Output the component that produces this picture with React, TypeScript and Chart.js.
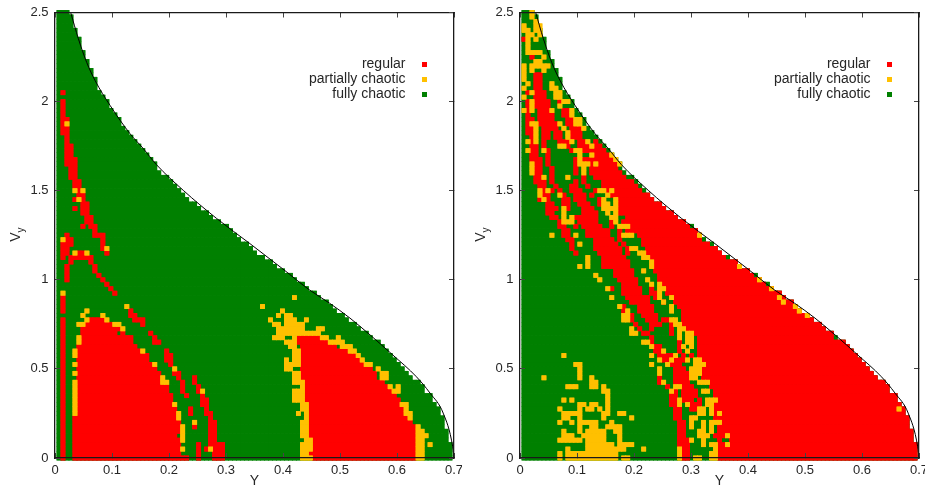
import React, { useEffect, useRef } from "react";
import { Chart, registerables } from "chart.js";

Chart.register(...registerables);

const seriesNames = ["regular", "partially chaotic", "fully chaotic"];
const yStep = 0.007;
const vyStep = 0.025;
const xTicks = [0, 0.1, 0.2, 0.3, 0.4, 0.5, 0.6, 0.7];
const yTicks = [0, 0.5, 1, 1.5, 2, 2.5];

// zero-velocity curve
const curveY = [0.0275, 0.041, 0.0556, 0.0702, 0.0965, 0.1316, 0.155, 0.178, 0.225, 0.2836, 0.342, 0.4, 0.447, 0.482, 0.5175, 0.553, 0.593, 0.634, 0.658, 0.681, 0.6977, 0.7];
const curveVy = [2.5, 2.353, 2.22, 2.119, 1.979, 1.82, 1.736, 1.646, 1.502, 1.344, 1.203, 1.06, 0.942, 0.868, 0.785, 0.69, 0.577, 0.456, 0.364, 0.252, 0.063, 0];

// last occupied Y cell of each Vy row (row 0 to row 100)
const rowExtent = [
  99, 99, 99, 99, 98, 98, 98, 97, 97, 97, 96, 96, 95, 94, 94, 92, 92, 91, 89, 88,
  87, 86, 85, 84, 83, 82, 81, 79, 78, 76, 75, 73, 72, 70, 69, 68, 66, 65, 63, 62,
  60, 59, 57, 55, 54, 52, 50, 49, 48, 46, 45, 44, 43, 41, 39, 38, 36, 35, 33, 32,
  31, 30, 29, 28, 26, 25, 25, 24, 23, 22, 21, 20, 19, 18, 17, 16, 16, 15, 14, 13,
  13, 12, 11, 10, 10, 10, 9, 9, 8, 8, 7, 7, 6, 6, 6, 5, 5, 4, 4, 4, 3,
];

const leftRegular: Record<number, string> = {
  82: "2", 80: "2", 79: "2", 78: "2", 77: "2", 76: "2-3", 75: "2", 74: "2-3", 73: "2-3", 72: "3", 71: "3",
  70: "3-4", 69: "3-4", 68: "3-4", 67: "3-5", 66: "3-5", 65: "4-5", 64: "4-5", 63: "4-5", 62: "5-6", 61: "5-6",
  60: "6", 59: "6-7", 58: "5 7", 57: "7-8", 56: "5 7-8", 55: "7-8", 54: "8-9", 53: "8-9", 52: "7 9-10", 51: "10",
  50: "3 10-12", 49: "3-4 12", 48: "2-4 12", 47: "2-3 12", 46: "2-3 6-7 13", 45: "2 4-9", 44: "4 9", 43: "3 10",
  42: "3 10", 41: "3 11", 40: "3 12", 39: "13", 38: "14", 37: "15", 36: "2", 35: "2", 34: "2", 33: "2 19",
  32: "19-20", 31: "2 9-12 20-22", 30: "2 8-14 22", 29: "2 7-16", 28: "2 7-15 17 24", 27: "2 7-19 25 61-66",
  26: "2 7-19 25-26 61-68", 25: "2 6-20 62-70", 24: "2 6-21 28 62-73", 23: "2 6-23 28-29 62-75",
  22: "2 6-23 28-29 62-76", 21: "2 6-24 29 62-77", 20: "2 6-25 62-79", 19: "2 6-26 30-31 62-80",
  18: "2 6-26 31 35 62-80", 17: "2 6-26 32 35 63-82", 16: "2 6-28 32 36 63-83", 15: "2 6-28 32 36 63-84",
  14: "2 6-29 33 37 63-85", 13: "2 6-29 37-38 63-86", 12: "2 6-29 37-38 64-86", 11: "2 6-30 34 38 64-87",
  10: "2 6-30 34 38-39 64-87", 9: "2 5-30 39 64-88", 8: "2 5-31 35 39-40 64-89", 7: "2 5-31 35 39-40 64-90",
  6: "2 5-31 39-40 64-90", 5: "2 5-30 39-40 64-90", 4: "2 5-31 39-40 65-90", 3: "2 5-31 36 39-42 65-90",
  2: "2 5-31 36 38 40-42 65-90", 1: "2 5-31 36 40-42 64-90", 0: "2 5-33 36 40-42 65-90",
};

const leftPartial: Record<number, string> = {
  75: "3", 60: "5 7", 58: "6", 49: "2", 47: "13", 46: "5 8", 37: "2", 36: "60", 34: "18 52", 33: "8 57",
  32: "7 12 56 58-59", 31: "8 13 54 58-60 63", 30: "6-7 15-16 55-56 58-62", 29: "17 56-62 66-67", 28: "56-66",
  27: "6 55-57 60 67-68 71", 26: "6 58-60 69-72", 25: "59-60 72-74", 24: "5 22 60-61 74-75", 23: "5 60-61 76",
  22: "58 60-61 77", 21: "5 25 58-61 78-79", 20: "30 58-59 81", 19: "5 60-61 82-83", 18: "27 60-61 82-83",
  17: "5 27-28 60-62", 16: "5 62 84 86", 15: "5 37 60-62 85-86", 14: "5 60-62", 13: "5 60-62",
  12: "5 30 62-63 87-88", 11: "5 62-63 88", 10: "5 31 61 63 88-89", 9: "31 63 89", 8: "35 62-63",
  7: "32 62-63 91", 6: "32 62-63 91-92", 5: "32 62-63 91-93", 4: "32 63-64 91-92", 3: "62-64 91-92 94",
  2: "32 39 62-64 91-92", 1: "62-63 91-92", 0: "62-64 91-92",
};

const rightRegular: Record<number, string> = {
  94: "1", 90: "3", 86: "4-5", 85: "4-5", 84: "4-5", 83: "4-5", 82: "2 4-6", 81: "4-6", 80: "2 4-7 10", 79: "2 4-7",
  78: "2 5-7 11-12", 77: "2 5-8 11-12", 76: "2-3 5-8 12-13", 75: "2 5-9 12-13", 74: "2-3 6-9 13-15",
  73: "2-3 6-7 9-10 13-15", 72: "3 6-7 9-10 13-15", 71: "3 6 10-12 15-16 19", 70: "3-4 6 12 15-20", 69: "3-4 7 13 16-21",
  68: "3-4 7 19-22", 67: "3-5 7 14 16-23", 66: "4-5 7 14 18 20-24", 65: "4-5 8 14 18-24", 64: "4-5 8 14 18-25",
  63: "4-5 8 16 19-26", 62: "4-6 8 14 16 21-28", 61: "5-6 9 13-14 17 21-29", 60: "6 8 10 13-15 19 22 24-30",
  59: "6-7 11 14-16 18 23+", 58: "5 7 11-12 14-16 20 25+", 57: "7-8 11-12 15-17 20 25+", 56: "7-9 12 16-18 25+",
  55: "7-8 16-19 25+", 54: "8-9 14-19 27+", 53: "10 15-19 23 26+", 52: "10-11 14 16-20 23 28-42",
  51: "11-12 17-22 25 27+", 50: "11-12 17-22 25 30+", 49: "12-13 19-23 25 31-45", 48: "13 19-24 26 31-47",
  47: "13 19-25 27 32+", 46: "14 20-25 27 32+", 45: "21-26 33-51", 44: "21-27 34+", 43: "21-27 34+", 42: "24-28 34+",
  41: "24-28 35-58", 40: "25-29 35+", 39: "26-29 36-61", 38: "23 26-30 33 37+", 37: "26-30 33-34 37+",
  36: "27-32 34 39+", 35: "28-32 36 39+", 34: "26 30-33 40+", 33: "26 30-33 41+", 32: "28 31-34 41+",
  31: "28 32-34 36-37 41+", 30: "29 33-35 38 41+", 29: "30 33 38 42+", 28: "31-32 38 44+", 27: "33 45-78",
  26: "33 40 45+", 25: "34-35 40 45+", 24: "34-35 40 45+", 23: "35-38 41 43 45+", 22: "36-37 39-41 46+", 21: "38-40 47+",
  20: "39-41 46+", 19: "39-42 46+", 18: "35 39-42 46+", 17: "35 39-42 48+", 16: "37 41-43 48+", 15: "39 41-44 49+",
  14: "38-39 41-44 49+", 13: "38-39 41-43 45 50+", 12: "38-39 43-45 49+", 11: "39-40 43-44 49+", 10: "39-40 49 51+",
  9: "39-40 49+", 8: "40-41 51+", 7: "40-41 50+", 6: "40-41 50+", 5: "40-41 49+", 4: "40-42 50 53+", 3: "40-42 50+",
  2: "41-42 50+", 1: "41-42 50+", 0: "41-42 50+",
};

const rightPartial: Record<number, string> = {
  100: "3", 99: "3", 98: "4", 97: "1 4-5", 96: "1-2 4-5", 95: "2-3 5", 94: "2 4", 93: "2", 92: "2", 91: "2-5", 90: "6",
  89: "4-5", 88: "1 3-7", 87: "1 3 6", 86: "1", 85: "1", 84: "2 8", 83: "1 8-9", 82: "3 9-10", 81: "1 9-10",
  80: "3 11-12", 79: "3 10", 78: "1 3 8 13", 77: "13", 76: "14-15", 75: "3-4 10 14-15", 74: "4 11 16", 73: "4 12",
  72: "4 12", 71: "2 4 13 17", 70: "10-11 18", 69: "2 6 14-15", 68: "15 18 23", 67: "15 24", 66: "3 15-17 19 25", 65: "3 16",
  64: "3 16", 63: "6 12", 60: "5 7 20-21 23", 59: "5 10 22", 58: "6 21 24", 57: "21-22 24", 56: "11 21-24",
  55: "11 22 24", 54: "11 13 23-24", 53: "11-13 24", 52: "25-27", 50: "8 14 26-28 45", 48: "15", 47: "28-29",
  46: "30-31", 45: "17 31-32", 44: "17 33", 43: "15 17 33 55", 42: "31", 41: "19", 40: "20 32 60", 39: "33 35", 38: "22 35-36 63",
  37: "35", 36: "23 35 38 65", 35: "36 66", 34: "25 38 69", 33: "27 38 70", 32: "26-27 72", 31: "26-27 38-39", 30: "39-40",
  29: "28 40-41", 28: "28-29 40 42-43", 27: "40 42-43", 26: "31-32 42-43", 25: "33 41 43", 24: "36 42", 23: "11 33 39",
  22: "35 38 42 44-45", 21: "14-15 33 37 44-46", 20: "15 35 43-45", 19: "15 35 43-45", 18: "6 15 18 43-44", 17: "18-19 36 45-47",
  16: "12-14 18-19 21 39-40", 15: "21-22 38 46-47", 14: "22", 13: "11 13 22 40 47-49", 12: "15-16 18-19 22 40 42 47-48",
  11: "10 15 17-18 20 22 45-46 48 95", 10: "11-15 21-22 25-26 45-46 48 50", 9: "11-12 15 21 28 43-44",
  8: "10 13 15-19 23 43 46 48-50", 7: "15 18-19 22-25 43 46 48", 6: "11 15 17-21 24-25 45-46 48", 5: "11-13 16-21 25 45-47 52",
  4: "10-15 17-21 25 43 46", 3: "17-23 25-28 46 48-49 52", 2: "12 17-26 31 40 49", 1: "10 12-24 40 48-49", 0: "10 12-24 26-27 40 44-45 48-49",
};

function expand(rows: Record<number, string>) {
  const pts: { x: number; y: number }[] = [];
  for (const key of Object.keys(rows)) {
    const j = Number(key);
    for (const tok of rows[j].split(" ")) {
      let a: number, b: number;
      if (tok.endsWith("+")) { a = Number(tok.slice(0, -1)); b = rowExtent[j]; }
      else if (tok.includes("-")) { [a, b] = tok.split("-").map(Number); }
      else { a = b = Number(tok); }
      for (let c = a; c <= b; c++) pts.push({ x: c * yStep, y: j * vyStep });
    }
  }
  return pts;
}

function baseCells() {
  const pts: { x: number; y: number }[] = [];
  rowExtent.forEach((last, j) => {
    for (let c = 1; c <= last; c++) pts.push({ x: c * yStep, y: j * vyStep });
  });
  return pts;
}

const twice = <T,>(a: T[]) => [...a, ...a];

const legendPlugin = {
  id: "panelDecor",
  afterDraw(chart: any) {
    const { ctx, chartArea } = chart;
    const colors = ["#ff0000", "#ffc000", "#008000"];
    ctx.save();
    ctx.font = "14px 'Liberation Sans'";
    ctx.textAlign = "right";
    ctx.textBaseline = "middle";
    seriesNames.forEach((name, i) => {
      const y = 64.5 + i * 15;
      ctx.fillStyle = "#262626";
      ctx.fillText(name, chartArea.right - 48.5, y);
      ctx.fillStyle = colors[i];
      ctx.fillRect(chartArea.right - 32, y - 2.5, 5, 5);
    });
    ctx.fillStyle = "#262626";
    ctx.translate(chartArea.left - 39, 237);
    ctx.rotate(-Math.PI / 2);
    ctx.textAlign = "center";
    ctx.font = "14px 'Liberation Sans'";
    ctx.fillText("V", 0, 0);
    ctx.font = "10px 'Liberation Sans'";
    ctx.fillText("y", 7, 5);
    ctx.restore();
  },
};

function makeAxis(position: string, min: number, max: number, ticks: number[], fit: number, main: boolean, titleText?: string) {
  return {
    type: "linear",
    position,
    min,
    max,
    afterBuildTicks: (s: any) => { s.ticks = ticks.map((value) => ({ value })); },
    afterFit: (s: any) => {
      if (position === "left" || position === "right") s.width = fit;
      else s.height = fit;
      s.paddingLeft = 0;
      s.paddingRight = 0;
      s.paddingTop = 0;
      s.paddingBottom = 0;
    },
    border: { display: true, color: "#1a1a1a", width: 1.3, z: 1 },
    grid: { display: true, drawOnChartArea: false, drawTicks: true, tickLength: -5, color: "#444444", lineWidth: 1, z: 1 },
    ticks: {
      display: main,
      autoSkip: false,
      maxRotation: 0,
      padding: position === "left" ? 11.5 : 9.5,
      color: "#262626",
      font: { family: "'Liberation Sans'", size: 13 },
      callback: (v: number) => String(Number(Number(v).toFixed(1))),
      z: 1,
    },
    title: titleText
      ? { display: true, text: titleText, color: "#262626", font: { family: "'Liberation Sans'", size: 14 }, padding: { top: 0, bottom: -2 } }
      : { display: false },
  };
}

function Panel({ left, width, regular, partial }: { left: number; width: number; regular: Record<number, string>; partial: Record<number, string> }) {
  const ref = useRef<HTMLCanvasElement>(null);
  useEffect(() => {
    const cell = { pointStyle: "rect", pointRadius: 3.4, pointBorderWidth: 0, pointHoverRadius: 3.4, showLine: false, clip: false };
    const chart = new Chart(ref.current!, {
      type: "scatter",
      plugins: [legendPlugin],
      data: {
        datasets: [
          { label: "curve", data: curveY.map((x, i) => ({ x, y: curveVy[i] })), showLine: true, cubicInterpolationMode: "monotone", borderColor: "#000000", borderWidth: 1, pointRadius: 0, order: 0, clip: false },
          { label: seriesNames[1], data: twice(expand(partial)), backgroundColor: "#ffc000", order: 1, ...cell },
          { label: seriesNames[0], data: twice(expand(regular)), backgroundColor: "#ff0000", order: 2, ...cell },
          { label: seriesNames[2], data: twice(baseCells()), backgroundColor: "#008000", order: 3, ...cell },
        ],
      },
      options: {
        responsive: false,
        animation: false,
        events: [],
        layout: { padding: { top: 12.5, right: width - 55 - 399, left: 0, bottom: 0 } },
        plugins: { legend: { display: false }, tooltip: { enabled: false } },
        scales: {
          x: makeAxis("bottom", 0, 0.7, xTicks, 30, true, "Y"),
          y: makeAxis("left", 0, 2.5, yTicks, 55, true),
          x2: makeAxis("top", 0, 0.7, xTicks, 0, false),
          y2: makeAxis("right", 0, 2.5, yTicks, 0, false),
        },
      },
    } as any);
    return () => chart.destroy();
  }, []);
  return <canvas ref={ref} width={width} height={488} style={{ position: "absolute", left, top: 0, width, height: 488 }} />;
}

export default function App() {
  return (
    <div style={{ position: "absolute", left: 0, top: 0, width: 925, height: 488, background: "#ffffff", overflow: "hidden" }}>
      <Panel left={0} width={462} regular={leftRegular} partial={leftPartial} />
      <Panel left={465} width={460} regular={rightRegular} partial={rightPartial} />
    </div>
  );
}
